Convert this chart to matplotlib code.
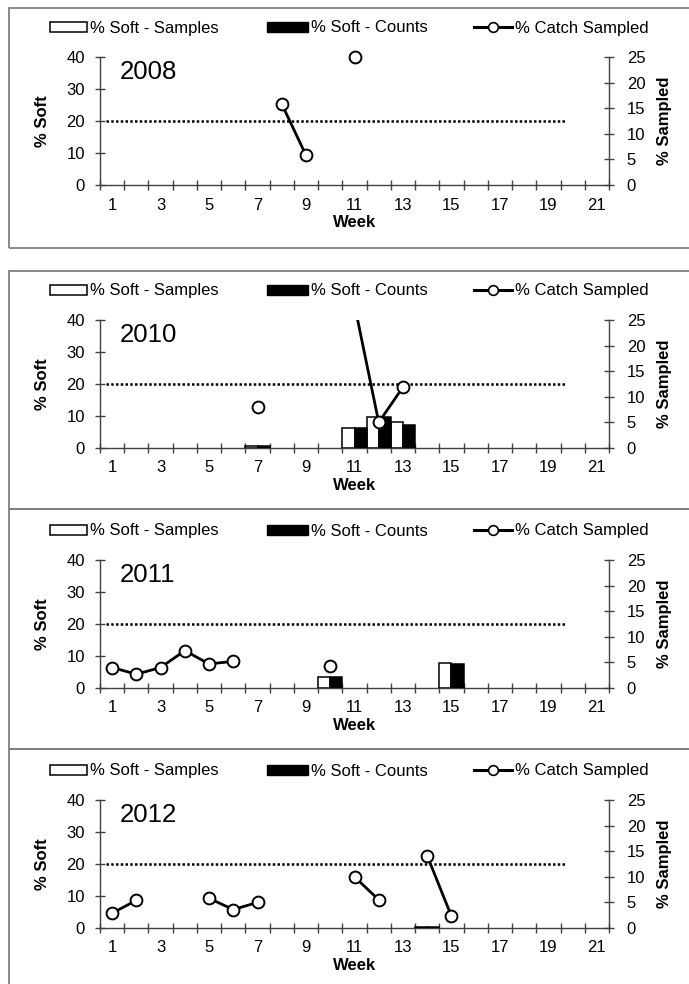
"""
软蟹比例按周变化图(2008 / 2010 / 2011 / 2012)
左轴:% Soft(柱),右轴:% Sampled(折线)
"""

import matplotlib.pyplot as plt
import numpy as np
from matplotlib.lines import Line2D
from matplotlib.patches import Patch, Rectangle

n = np.nan

WEEKS = np.arange(1, 22)
WEEK_LABELS = list(range(1, 22, 2))
YEARS = ["2008", "2010", "2011", "2012"]

# % Soft - Samples(左轴)
SAMPLES_2008 = [n] * 21
SAMPLES_2010 = [n, n, n, n, n, n, 0.5, n, n, n, 6.3, 9.7, 8.0, n, n, n, n, n, n, n, n]
SAMPLES_2011 = [n, n, n, n, n, n, n, n, n, 3.5, n, n, n, n, 7.9, n, n, n, n, n, n]
SAMPLES_2012 = [n, n, n, n, n, n, n, n, n, n, n, n, n, 0.4, n, n, n, n, n, n, n]

# % Soft - Counts(左轴)
COUNTS_2008 = [n] * 21
COUNTS_2010 = [n, n, n, n, n, n, 0.5, n, n, n, 6.1, 9.7, 7.3, n, n, n, n, n, n, n, n]
COUNTS_2011 = [n, n, n, n, n, n, n, n, n, 3.5, n, n, n, n, 7.5, n, n, n, n, n, n]
COUNTS_2012 = [n, n, n, n, n, n, n, n, n, n, n, n, n, 0.4, n, n, n, n, n, n, n]

# % Catch Sampled(右轴)
CATCH_2008 = [n, n, n, n, n, n, n, 15.8, 5.8, n, 25.0, n, n, n, n, n, n, n, n, n, n]
CATCH_2010 = [n, n, n, n, n, n, 8.0, n, n, n, 28.0, 5.0, 11.9, n, n, n, n, n, n, n, n]
CATCH_2011 = [4.0, 2.7, 4.0, 7.3, 4.7, 5.2, n, n, n, 4.3, n, n, n, n, n, n, n, n, n, n, n]
CATCH_2012 = [2.9, 5.4, n, n, 5.8, 3.6, 5.0, n, n, n, 10.0, 5.5, n, 14.1, 2.3, n, n, n, n, n, n]

SAMPLES = [SAMPLES_2008, SAMPLES_2010, SAMPLES_2011, SAMPLES_2012]
COUNTS = [COUNTS_2008, COUNTS_2010, COUNTS_2011, COUNTS_2012]
CATCH = [CATCH_2008, CATCH_2010, CATCH_2011, CATCH_2012]

SOFT_TARGET = 20          # 20% 参考虚线
TARGET_SPAN = (0.75, 19.7)

# 版面(像素,自上而下)
W, H = 689, 984
ZERO_Y = [185, 448, 688, 928]
PANEL_BOXES = [(8, 248), (271, 509), (509, 749), (749, 995)]
AX_LEFT, AX_RIGHT, AX_HEIGHT = 100, 609, 128
AXIS_GRAY = "#404040"

plt.rcParams.update({
    "font.family": ["Liberation Sans", "DejaVu Sans"],
    "font.size": 12,
})


def draw_legend(fig, zero_y):
    """每个面板顶部的三项图例,手动定位。"""
    y = 1 - (zero_y - 157) / H
    items = [
        (Patch(facecolor="white", edgecolor="black", lw=1.1), "% Soft - Samples", 50, 2.22),
        (Patch(facecolor="black", edgecolor="black"), "% Soft - Counts", 267, 2.46),
        (Line2D([], [], color="black", lw=2.2, marker="o", ms=7, mfc="white",
                mec="black", mew=1.2), "% Catch Sampled", 474, 2.28),
    ]
    for handle, label, x, hl in items:
        fig.legend(handles=[handle], labels=[label], loc="center left",
                   bbox_to_anchor=(x / W, y), bbox_transform=fig.transFigure,
                   frameon=False, borderpad=0, borderaxespad=0,
                   handlelength=hl, handleheight=0.55, handletextpad=0.2,
                   fontsize=12)


def draw_panel(fig, i):
    zero_y = ZERO_Y[i]
    ax = fig.add_axes([AX_LEFT / W, 1 - zero_y / H,
                       (AX_RIGHT - AX_LEFT) / W, AX_HEIGHT / H])
    ax2 = ax.twinx()

    # 柱:白=样本,黑=计数
    ax.bar(WEEKS - 0.25, SAMPLES[i], width=0.5, color="white",
           edgecolor="black", lw=1.1, zorder=3)
    ax.bar(WEEKS + 0.25, COUNTS[i], width=0.5, color="black",
           edgecolor="black", lw=1.1, zorder=3)
    ax.hlines(SOFT_TARGET, *TARGET_SPAN, colors="black",
              linestyles=(0, (1, 0.9)), lw=1.8, zorder=2)

    # 折线:超出右轴上限的部分被裁掉,标记不裁(模仿 Excel)
    catch = np.array(CATCH[i], dtype=float)
    ax2.plot(WEEKS, catch, color="black", lw=2.0, zorder=3)
    ax2.plot(WEEKS, np.ma.masked_greater(catch, 25), ls="none", marker="o",
             ms=8.5, mfc="white", mec="black", mew=1.4, zorder=4, clip_on=False)

    ax.set_xlim(0.5, 21.5)
    ax.set_ylim(0, 40)
    ax2.set_ylim(0, 25)

    ax.set_yticks([0, 10, 20, 30, 40])
    ax2.set_yticks([0, 5, 10, 15, 20, 25])
    ax.set_xticks(WEEK_LABELS)
    ax.set_xticks(np.arange(0.5, 22, 1), minor=True)
    ax.tick_params(axis="x", which="major", length=0, pad=9)
    ax.tick_params(axis="x", which="minor", direction="inout", length=6.5,
                   width=1, color=AXIS_GRAY)
    ax.tick_params(axis="y", direction="inout", length=6.5, width=1,
                   color=AXIS_GRAY, pad=7.5)
    ax2.tick_params(axis="y", direction="inout", length=6.5, width=1,
                    color=AXIS_GRAY, pad=9.5)

    ax.spines["top"].set_visible(False)
    ax.spines["right"].set_visible(False)
    for s in ("top", "left", "bottom"):
        ax2.spines[s].set_visible(False)
    for sp in (ax.spines["left"], ax.spines["bottom"], ax2.spines["right"]):
        sp.set_color(AXIS_GRAY)
        sp.set_linewidth(1.0)

    ax.text(0.039, 0.883, YEARS[i], transform=ax.transAxes, fontsize=18.5,
            ha="left", va="center")
    ax.text(-0.112, 0.5, "% Soft", transform=ax.transAxes, rotation=90,
            fontsize=12, fontweight="bold", ha="center", va="center")
    ax.text(1.11, 0.5, "% Sampled", transform=ax.transAxes, rotation=90,
            fontsize=12, fontweight="bold", ha="center", va="center")
    ax.text(0.5, -0.29, "Week", transform=ax.transAxes, fontsize=12,
            fontweight="bold", ha="center", va="center")

    draw_legend(fig, zero_y)


def main():
    fig = plt.figure(figsize=(W / 100, H / 100), dpi=100)

    # 面板边框
    for top, bottom in PANEL_BOXES:
        fig.add_artist(Rectangle((9 / W, 1 - bottom / H), 720 / W, (bottom - top) / H,
                                 transform=fig.transFigure, fill=False,
                                 edgecolor="#808080", lw=1.3))

    for i in range(len(YEARS)):
        draw_panel(fig, i)

    fig.savefig("out.png", dpi=100)
    plt.close(fig)


if __name__ == "__main__":
    main()
